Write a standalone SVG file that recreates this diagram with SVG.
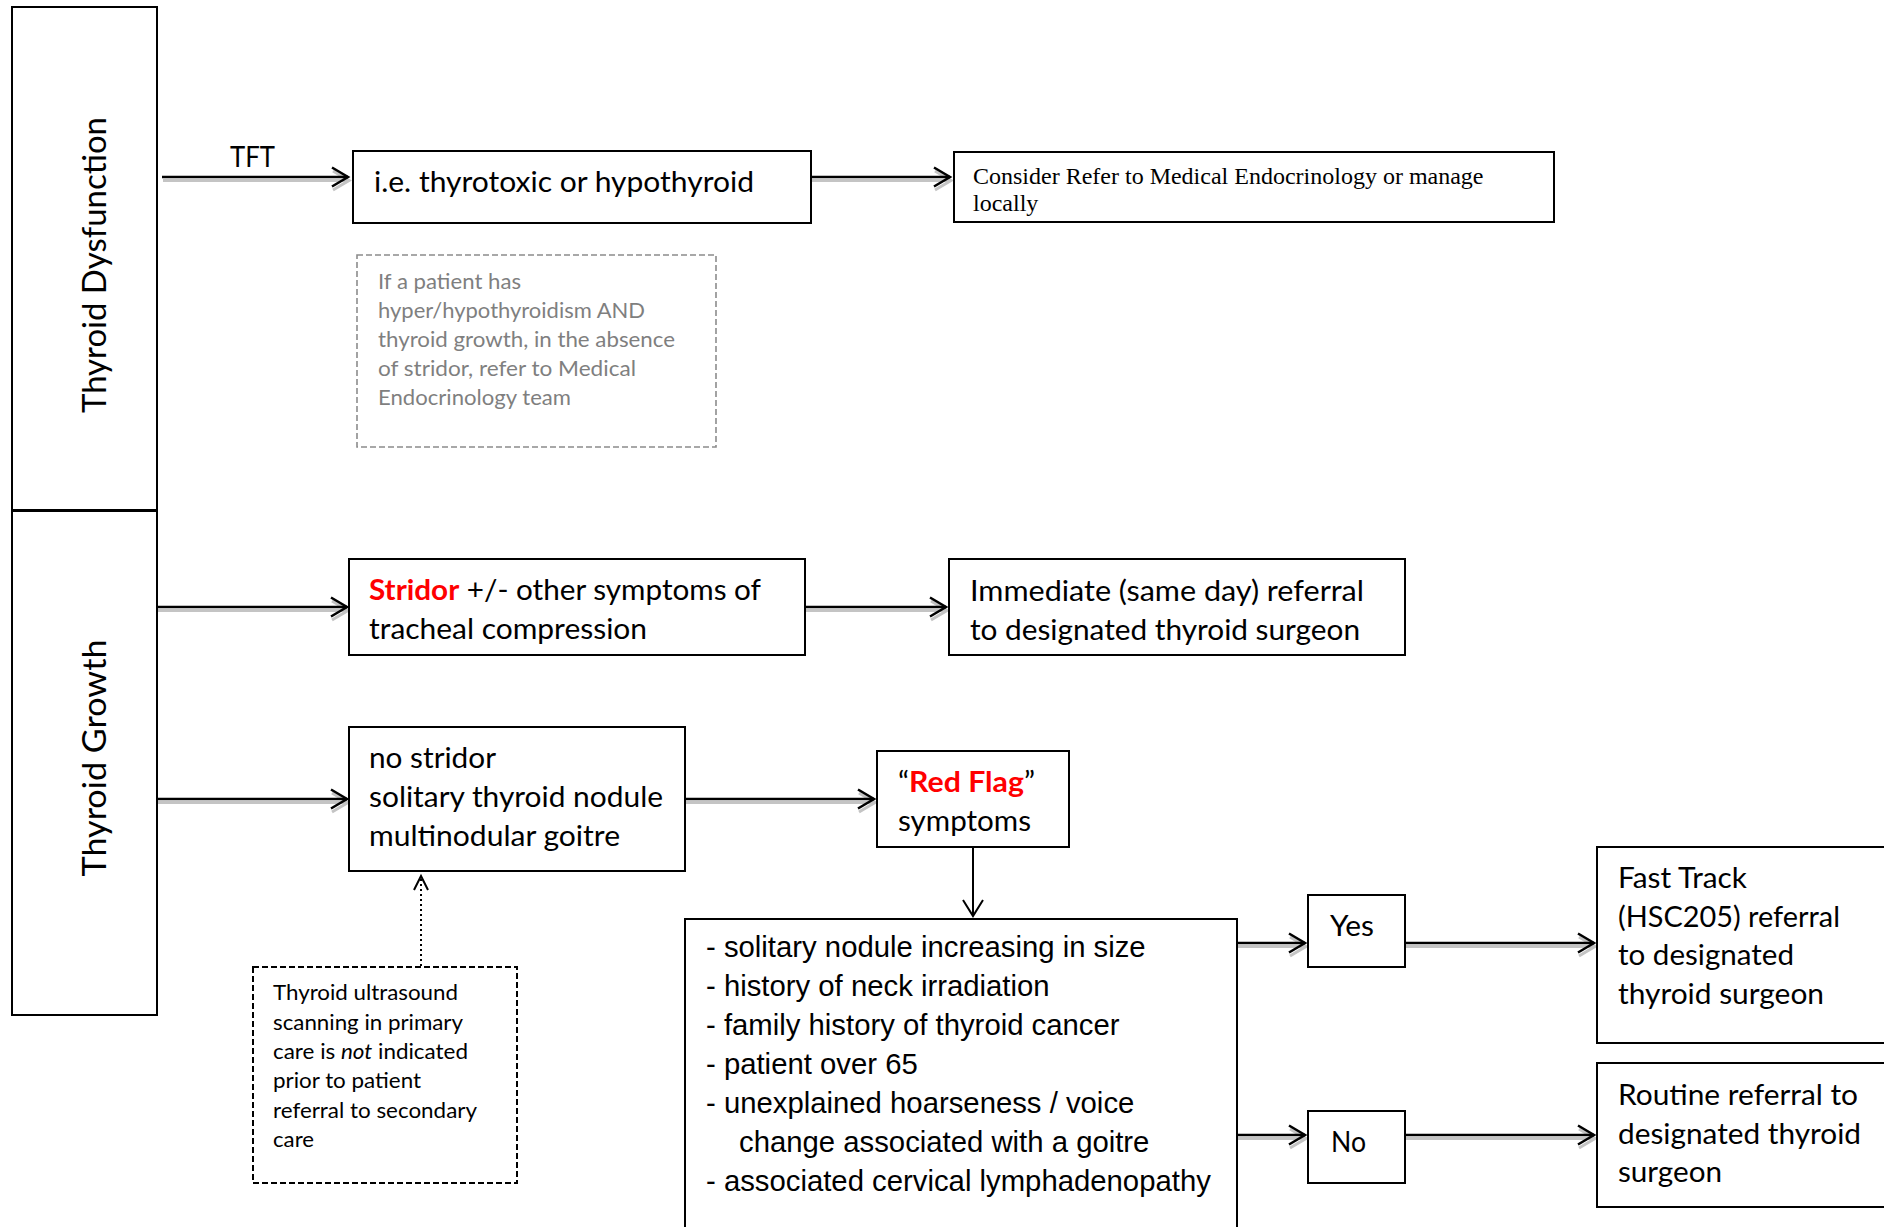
<svg xmlns="http://www.w3.org/2000/svg" width="1884" height="1227" viewBox="0 0 1884 1227">
<style>
.box{fill:#fff;stroke:#000;stroke-width:2}
.c{font-family:Lato,"Open Sans",sans-serif;fill:#000}
.m{font-size:28px}
.g{font-size:21px;fill:#7f7f7f}
.u{font-size:21px}
.col{font-size:32px}
.ar{font-family:"Liberation Sans",Arial,sans-serif;font-size:29.3px;fill:#000}
.tr{font-family:"Liberation Serif","Times New Roman",serif;font-size:24px;fill:#000}
.red{fill:#ff0000;font-weight:bold}
.ln{fill:none;stroke:#000;stroke-width:2.5}
.sh{fill:none;stroke:#c4c4c4;stroke-width:3}
</style>
<defs>
<marker id="ah" markerUnits="userSpaceOnUse" markerWidth="24" markerHeight="26" refX="18" refY="12" orient="auto" overflow="visible">
<path d="M2,2.5 L18,12 L2,21.5" fill="none" stroke="#000" stroke-width="2.5"/>
</marker>
<marker id="ahs" markerUnits="userSpaceOnUse" markerWidth="24" markerHeight="26" refX="18" refY="12" orient="auto" overflow="visible">
<path d="M2,2.5 L18,12 L2,21.5" fill="none" stroke="#c4c4c4" stroke-width="3"/>
</marker>
<marker id="ahv" markerUnits="userSpaceOnUse" markerWidth="24" markerHeight="26" refX="17" refY="11" orient="auto" overflow="visible">
<path d="M1,1 L17,11 L1,21" fill="none" stroke="#000" stroke-width="2"/>
</marker>
<marker id="ahd" markerUnits="userSpaceOnUse" markerWidth="20" markerHeight="20" refX="15" refY="8" orient="auto" overflow="visible">
<path d="M1,1 L15,8 L1,15" fill="none" stroke="#000" stroke-width="2"/>
</marker>
<clipPath id="clipC"><rect x="955" y="153" width="598" height="66"/></clipPath>
</defs>

<g id="connectors">
<g transform="translate(1,3.5)">
<path class="sh" d="M162,177 H348" marker-end="url(#ahs)"/>
<path class="sh" d="M811,177 H950" marker-end="url(#ahs)"/>
<path class="sh" d="M157,607 H347" marker-end="url(#ahs)"/>
<path class="sh" d="M805,607 H946" marker-end="url(#ahs)"/>
<path class="sh" d="M157,799 H347" marker-end="url(#ahs)"/>
<path class="sh" d="M685,799 H874" marker-end="url(#ahs)"/>
<path class="sh" d="M1237,943 H1305" marker-end="url(#ahs)"/>
<path class="sh" d="M1405,943 H1594" marker-end="url(#ahs)"/>
<path class="sh" d="M1237,1135 H1305" marker-end="url(#ahs)"/>
<path class="sh" d="M1405,1135 H1594" marker-end="url(#ahs)"/>
</g>
<path class="ln" d="M162,177 H348" marker-end="url(#ah)"/>
<path class="ln" d="M811,177 H950" marker-end="url(#ah)"/>
<path class="ln" d="M157,607 H347" marker-end="url(#ah)"/>
<path class="ln" d="M805,607 H946" marker-end="url(#ah)"/>
<path class="ln" d="M157,799 H347" marker-end="url(#ah)"/>
<path class="ln" d="M685,799 H874" marker-end="url(#ah)"/>
<path class="ln" d="M1237,943 H1305" marker-end="url(#ah)"/>
<path class="ln" d="M1405,943 H1594" marker-end="url(#ah)"/>
<path class="ln" d="M1237,1135 H1305" marker-end="url(#ah)"/>
<path class="ln" d="M1405,1135 H1594" marker-end="url(#ah)"/>
<path d="M973,847 V916" fill="none" stroke="#000" stroke-width="2" marker-end="url(#ahv)"/>
<path d="M421,966 V876" fill="none" stroke="#000" stroke-width="2" stroke-dasharray="2,3" marker-end="url(#ahd)"/>
<text class="c m" x="230" y="167" textLength="45" lengthAdjust="spacingAndGlyphs">TFT</text>
</g>

<g id="col-dysfunction">
<rect class="box" x="12" y="7" width="145" height="503"/>
<text class="c col" text-anchor="middle" transform="translate(106,265) rotate(-90)" textLength="296" lengthAdjust="spacingAndGlyphs">Thyroid Dysfunction</text>
</g>
<g id="col-growth">
<line x1="13" y1="515" x2="156" y2="515" stroke="#c8c8c8" stroke-width="2"/>
<rect class="box" x="12" y="511" width="145" height="504"/>
<text class="c col" text-anchor="middle" transform="translate(106,758) rotate(-90)" textLength="237" lengthAdjust="spacingAndGlyphs">Thyroid Growth</text>
</g>

<g id="n-thyrotoxic">
<rect class="box" x="353" y="151" width="458" height="72"/>
<text class="c m" x="374" y="192" textLength="380" lengthAdjust="spacingAndGlyphs">i.e. thyrotoxic or hypothyroid</text>
</g>

<g id="n-consider">
<rect class="box" x="954" y="152" width="600" height="70"/>
<g clip-path="url(#clipC)">
<text class="tr" x="973" y="184">Consider Refer to Medical Endocrinology or manage</text>
<text class="tr" x="973" y="211">locally</text>
</g>
</g>

<g id="n-note-endo">
<rect x="357" y="255" width="359" height="192" fill="none" stroke="#8c8c8c" stroke-width="1.6" stroke-dasharray="6,3"/>
<text class="c g" x="378" y="289" textLength="143" lengthAdjust="spacingAndGlyphs">If a patient has</text>
<text class="c g" x="378" y="318" textLength="267" lengthAdjust="spacingAndGlyphs">hyper/hypothyroidism AND</text>
<text class="c g" x="378" y="347" textLength="297" lengthAdjust="spacingAndGlyphs">thyroid growth, in the absence</text>
<text class="c g" x="378" y="376" textLength="258" lengthAdjust="spacingAndGlyphs">of stridor, refer to Medical</text>
<text class="c g" x="378" y="405" textLength="193" lengthAdjust="spacingAndGlyphs">Endocrinology team</text>
</g>

<g id="n-stridor">
<rect class="box" x="349" y="559" width="456" height="96"/>
<text class="c m" x="369" y="600" textLength="392" lengthAdjust="spacingAndGlyphs"><tspan class="red">Stridor</tspan> +/- other symptoms of</text>
<text class="c m" x="369" y="639" textLength="278" lengthAdjust="spacingAndGlyphs">tracheal compression</text>
</g>

<g id="n-immediate">
<rect class="box" x="949" y="559" width="456" height="96"/>
<text class="c m" x="970" y="601" textLength="394" lengthAdjust="spacingAndGlyphs">Immediate (same day) referral</text>
<text class="c m" x="970" y="640" textLength="390" lengthAdjust="spacingAndGlyphs">to designated thyroid surgeon</text>
</g>

<g id="n-nostridor">
<rect class="box" x="349" y="727" width="336" height="144"/>
<text class="c m" x="369" y="768" textLength="127" lengthAdjust="spacingAndGlyphs">no stridor</text>
<text class="c m" x="369" y="807" textLength="294" lengthAdjust="spacingAndGlyphs">solitary thyroid nodule</text>
<text class="c m" x="369" y="846" textLength="251" lengthAdjust="spacingAndGlyphs">multinodular goitre</text>
</g>

<g id="n-redflag">
<rect class="box" x="877" y="751" width="192" height="96"/>
<text class="c m" x="898" y="792" textLength="137" lengthAdjust="spacingAndGlyphs">“<tspan class="red">Red Flag</tspan>”</text>
<text class="c m" x="898" y="831" textLength="133" lengthAdjust="spacingAndGlyphs">symptoms</text>
</g>

<g id="n-ultrasound">
<rect x="253" y="967" width="264" height="216" fill="#fff" stroke="#000" stroke-width="2" stroke-dasharray="6,3"/>
<text class="c u" x="273" y="1000" textLength="185" lengthAdjust="spacingAndGlyphs">Thyroid ultrasound</text>
<text class="c u" x="273" y="1030" textLength="190" lengthAdjust="spacingAndGlyphs">scanning in primary</text>
<text class="c u" x="273" y="1059" textLength="195" lengthAdjust="spacingAndGlyphs">care is <tspan font-style="italic">not</tspan> indicated</text>
<text class="c u" x="273" y="1088" textLength="148" lengthAdjust="spacingAndGlyphs">prior to patient</text>
<text class="c u" x="273" y="1118" textLength="204" lengthAdjust="spacingAndGlyphs">referral to secondary</text>
<text class="c u" x="273" y="1147" textLength="41" lengthAdjust="spacingAndGlyphs">care</text>
</g>

<g id="n-symptoms">
<rect class="box" x="685" y="919" width="552" height="340"/>
<text class="ar" x="706" y="957">- solitary nodule increasing in size</text>
<text class="ar" x="706" y="996">- history of neck irradiation</text>
<text class="ar" x="706" y="1035">- family history of thyroid cancer</text>
<text class="ar" x="706" y="1074">- patient over 65</text>
<text class="ar" x="706" y="1113">- unexplained hoarseness / voice</text>
<text class="ar" x="739" y="1152">change associated with a goitre</text>
<text class="ar" x="706" y="1191">- associated cervical lymphadenopathy</text>
</g>

<g id="n-yes">
<rect class="box" x="1308" y="895" width="97" height="72"/>
<text class="c m" x="1330" y="936" textLength="44" lengthAdjust="spacingAndGlyphs">Yes</text>
</g>

<g id="n-no">
<rect class="box" x="1308" y="1111" width="97" height="72"/>
<text class="c m" x="1331" y="1152" textLength="35" lengthAdjust="spacingAndGlyphs">No</text>
</g>

<g id="n-fasttrack">
<rect class="box" x="1597" y="847" width="320" height="196"/>
<text class="c m" x="1618" y="888" textLength="129" lengthAdjust="spacingAndGlyphs">Fast Track</text>
<text class="c m" x="1618" y="927" textLength="222" lengthAdjust="spacingAndGlyphs">(HSC205) referral</text>
<text class="c m" x="1618" y="965" textLength="176" lengthAdjust="spacingAndGlyphs">to designated</text>
<text class="c m" x="1618" y="1004" textLength="206" lengthAdjust="spacingAndGlyphs">thyroid surgeon</text>
</g>

<g id="n-routine">
<rect class="box" x="1597" y="1063" width="320" height="144"/>
<text class="c m" x="1618" y="1105" textLength="240" lengthAdjust="spacingAndGlyphs">Routine referral to</text>
<text class="c m" x="1618" y="1144" textLength="243" lengthAdjust="spacingAndGlyphs">designated thyroid</text>
<text class="c m" x="1618" y="1182" textLength="104" lengthAdjust="spacingAndGlyphs">surgeon</text>
</g>
</svg>
